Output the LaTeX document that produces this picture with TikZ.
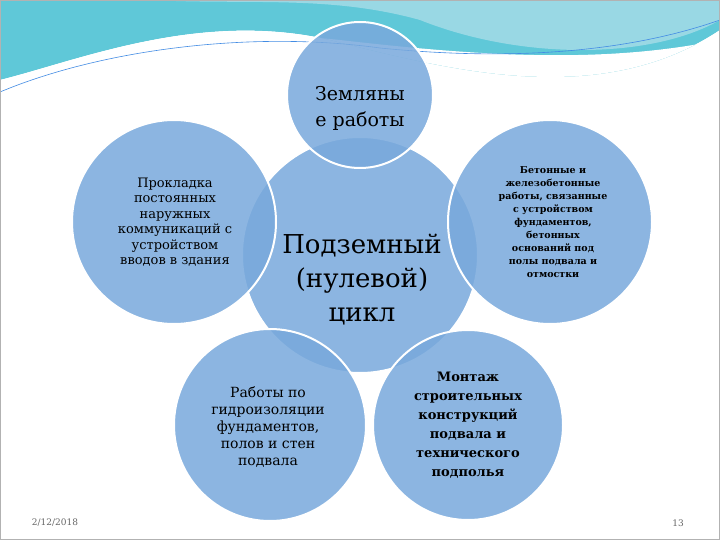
\documentclass[tikz,border=0pt]{standalone}
\usepackage{fontspec}
\setmainfont{DejaVu Serif}
\begin{document}
\begin{tikzpicture}[x=1pt,y=-1pt,
  circ/.style={circle,draw=white,line width=2pt,fill=blue1,fill opacity=0.85,text opacity=1,align=center,text=black},
  lbl/.style={align=center}]
\definecolor{blue1}{HTML}{79A9DC}
\definecolor{wave1}{HTML}{5FC8D8}
\definecolor{wave2}{HTML}{A8DDE8}
\useasboundingbox (0,0) rectangle (720,540);
\fill[white] (0,0) rectangle (720,540);
% waves
\fill[wave1] (0,0) -- (720,0) -- (720,30) .. controls (600,110) and (450,70) .. (330,40) .. controls (200,10) and (80,60) .. (0,80) -- cycle;
\fill[wave2,opacity=0.8] (150,0) -- (720,0) -- (720,20) .. controls (650,60) and (520,60) .. (420,20) .. controls (330,-5) and (250,5) .. (150,0) -- cycle;
\fill[white] (0,80) .. controls (80,60) and (200,10) .. (330,40) .. controls (450,70) and (600,110) .. (720,30) -- (720,40) .. controls (600,65) and (470,55) .. (340,40) .. controls (200,25) and (80,60) .. (0,95) -- cycle;
\draw[wave1!70!blue,line width=0.6pt] (0,92) .. controls (100,50) and (250,30) .. (380,48) .. controls (500,60) and (620,55) .. (720,20);
\draw[gray!60,line width=0.6pt] (0.5,0.5) rectangle (719.5,539.5);
% circles
\node[circ,minimum size=236pt] (c) at (360,255) {};
\node[circ,minimum size=146pt] (t) at (360,95) {};
\node[circ,minimum size=204pt] (l) at (174,222) {};
\node[circ,minimum size=204pt] (r) at (550,222) {};
\node[circ,minimum size=192pt] (bl) at (270,425) {};
\node[circ,minimum size=190pt] (br) at (468,425) {};
% texts
\node[align=center,font=\fontsize{19}{26}\selectfont] at (360,108) {Земляны\\е работы};
\node[align=center,font=\fontsize{26}{34}\selectfont] at (362,280) {Подземный\\(нулевой)\\цикл};
\node[lbl,font=\fontsize{13}{15.5}\selectfont] at (175,222) {Прокладка\\постоянных\\наружных\\коммуникаций с\\устройством\\вводов в здания};
\node[lbl,font=\bfseries\fontsize{9.5}{13}\selectfont] at (553,222) {Бетонные и\\железобетонные\\работы, связанные\\с устройством\\фундаментов,\\бетонных\\оснований под\\полы подвала и\\отмостки};
\node[lbl,font=\fontsize{14}{17}\selectfont] at (268,427) {Работы по\\гидроизоляции\\фундаментов,\\полов и стен\\подвала};
\node[lbl,font=\bfseries\fontsize{13}{19}\selectfont] at (468,425) {Монтаж\\строительных\\конструкций\\подвала и\\технического\\подполья};
\node[font=\fontsize{9}{11}\selectfont,text=gray!80!black] at (55,523) {2/12/2018};
\node[font=\fontsize{9}{11}\selectfont,text=gray!80!black] at (678,523) {13};
\end{tikzpicture}
\end{document}
